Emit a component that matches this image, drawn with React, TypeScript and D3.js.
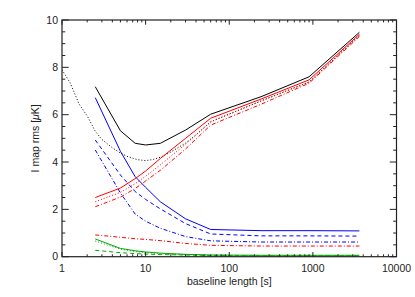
import React, { useEffect, useRef } from "react";
import * as d3 from "d3";

// baseline lengths [s] where the curves are sampled
const baseline = [2.5, 5, 7.5, 10, 15, 30, 60, 240, 900, 3600];

const blackSolid = [7.18, 5.32, 4.79, 4.72, 4.79, 5.35, 6.02, 6.76, 7.6, 9.48];
const redSolid = [2.5, 2.9, 3.3, 3.62, 4.15, 5.0, 5.85, 6.66, 7.47, 9.4];
const redDotted = [2.32, 2.72, 3.08, 3.4, 3.88, 4.75, 5.7, 6.58, 7.38, 9.35];
const redDashDot = [2.11, 2.52, 2.88, 3.2, 3.65, 4.55, 5.56, 6.44, 7.33, 9.3];
const redLow = [0.92, 0.82, 0.76, 0.73, 0.68, 0.56, 0.48, 0.45, 0.45, 0.45];
const blueSolid = [6.72, 4.45, 3.38, 2.93, 2.32, 1.6, 1.15, 1.1, 1.1, 1.09];
const blueDashed = [4.93, 3.45, 2.75, 2.42, 2.02, 1.4, 0.96, 0.88, 0.88, 0.87];
const blueDashDot = [4.51, 2.69, 1.8, 1.5, 1.2, 0.85, 0.67, 0.62, 0.62, 0.62];
const greenSolid = [0.75, 0.35, 0.25, 0.2, 0.15, 0.1, 0.07, 0.06, 0.06, 0.06];
const greenDotted = [0.66, 0.32, 0.22, 0.17, 0.13, 0.09, 0.06, 0.05, 0.05, 0.05];
const greenDashed = [0.27, 0.17, 0.13, 0.11, 0.09, 0.07, 0.05, 0.04, 0.04, 0.04];

// the dotted black curve is finely sampled from 1 s
const dottedBaseline = [1, 1.25, 1.6, 2, 2.5, 3, 4, 5, 6, 8, 10, 12, 15, 20, 30, 40, 60, 240, 900, 3600];
const blackDotted = [7.9, 7.35, 6.45, 5.95, 5.3, 4.95, 4.6, 4.38, 4.24, 4.1, 4.06, 4.1, 4.2, 4.42, 4.8, 5.15, 5.7, 6.58, 7.38, 9.35];

const xTickValues = [1, 10, 100, 1000, 10000];
const yTickValues = [0, 2, 4, 6, 8, 10];

const DOT = "1,2";
const DASH = "4,3";
const DASHDOT = "4,2,1,2";

const series = [
  { xs: dottedBaseline, ys: blackDotted, color: "#000", dash: DOT },
  { xs: baseline, ys: greenDashed, color: "#00a800", dash: DASH },
  { xs: baseline, ys: greenDotted, color: "#00a800", dash: DOT },
  { xs: baseline, ys: greenSolid, color: "#00a800", dash: null },
  { xs: baseline, ys: redLow, color: "#ff0000", dash: DASHDOT },
  { xs: baseline, ys: blueDashDot, color: "#0000ff", dash: DASHDOT },
  { xs: baseline, ys: blueDashed, color: "#0000ff", dash: DASH },
  { xs: baseline, ys: blueSolid, color: "#0000ff", dash: null },
  { xs: baseline, ys: redDashDot, color: "#ff0000", dash: DASHDOT },
  { xs: baseline, ys: redDotted, color: "#ff0000", dash: DOT },
  { xs: baseline, ys: redSolid, color: "#ff0000", dash: null },
  { xs: baseline, ys: blackSolid, color: "#000", dash: null },
];

const W = 415;
const H = 297;
const margin = { top: 20, right: 18.5, bottom: 40.3, left: 62 };

export default function App() {
  const ref = useRef<SVGSVGElement>(null);

  useEffect(() => {
    const svg = d3.select(ref.current);
    svg.selectAll("*").remove();

    const iw = W - margin.left - margin.right;
    const ih = H - margin.top - margin.bottom;

    const x = d3.scaleLog().domain([1, 10000]).range([0, iw]);
    const y = d3.scaleLinear().domain([0, 10]).range([ih, 0]);

    const g = svg.append("g").attr("transform", `translate(${margin.left},${margin.top})`);

    g.append("clipPath").attr("id", "plot").append("rect").attr("width", iw).attr("height", ih);

    const line = d3.line<[number, number]>()
      .x(d => x(d[0]))
      .y(d => y(d[1]));

    const lines = g.append("g").attr("clip-path", "url(#plot)");
    series.forEach(s => {
      lines.append("path")
        .attr("d", line(s.xs.map((v, i) => [v, s.ys[i]] as [number, number])))
        .attr("fill", "none")
        .attr("stroke", s.color)
        .attr("stroke-width", 1)
        .attr("stroke-dasharray", s.dash);
    });

    const axisColor = "#222";

    // ticks, inward on all four sides
    const xMinor: number[] = [];
    for (let p = 0; p < 4; p++) {
      for (let m = 2; m <= 9; m++) xMinor.push(m * Math.pow(10, p));
    }
    const ticks = g.append("g").attr("stroke", axisColor).attr("stroke-width", 1);
    const xMajLen = 4.7, xMinLen = 2.4, yMajLen = 6.7, yMinLen = 3.3;
    xTickValues.forEach(v => {
      ticks.append("line").attr("x1", x(v)).attr("x2", x(v)).attr("y1", ih).attr("y2", ih - xMajLen);
      ticks.append("line").attr("x1", x(v)).attr("x2", x(v)).attr("y1", 0).attr("y2", xMajLen);
    });
    xMinor.forEach(v => {
      ticks.append("line").attr("x1", x(v)).attr("x2", x(v)).attr("y1", ih).attr("y2", ih - xMinLen);
      ticks.append("line").attr("x1", x(v)).attr("x2", x(v)).attr("y1", 0).attr("y2", xMinLen);
    });
    d3.range(0, 10.01, 0.5).forEach(v => {
      const len = Math.abs(v % 2) < 1e-6 ? yMajLen : yMinLen;
      ticks.append("line").attr("x1", 0).attr("x2", len).attr("y1", y(v)).attr("y2", y(v));
      ticks.append("line").attr("x1", iw).attr("x2", iw - len).attr("y1", y(v)).attr("y2", y(v));
    });

    g.append("rect")
      .attr("width", iw)
      .attr("height", ih)
      .attr("fill", "none")
      .attr("stroke", axisColor)
      .attr("stroke-width", 1.2);

    const font = "'Liberation Sans', Arial, sans-serif";
    const labels = g.append("g")
      .attr("font-family", font)
      .attr("font-size", 10.5)
      .attr("fill", axisColor);

    xTickValues.forEach(v => {
      labels.append("text")
        .attr("x", x(v))
        .attr("y", ih + 15)
        .attr("text-anchor", "middle")
        .text(String(v));
    });
    yTickValues.forEach(v => {
      labels.append("text")
        .attr("x", -4)
        .attr("y", y(v) + 3.7)
        .attr("text-anchor", "end")
        .text(String(v));
    });

    labels.append("text")
      .attr("x", iw / 2)
      .attr("y", ih + 28.5)
      .attr("text-anchor", "middle")
      .text("baseline length [s]");

    const yl = labels.append("text")
      .attr("transform", `translate(${39 - margin.left},${ih / 2}) rotate(-90)`)
      .attr("text-anchor", "middle");
    yl.append("tspan").text("I map rms [");
    yl.append("tspan").attr("font-style", "italic").text("μ");
    yl.append("tspan").text("K]");
  }, []);

  return (
    <svg
      ref={ref}
      width={W}
      height={H}
      style={{ position: "fixed", left: 0, top: 0, background: "#fff" }}
    />
  );
}
